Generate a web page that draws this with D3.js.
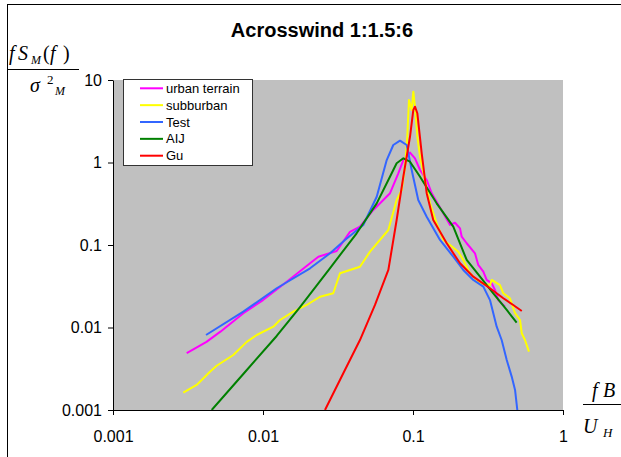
<!DOCTYPE html>
<html><head><meta charset="utf-8">
<script src="https://cdn.jsdelivr.net/npm/d3@7"></script>
<style>body{margin:0;background:#fff}svg{display:block}</style>
</head><body>
<svg id="c" width="621" height="457"></svg>
<script>
const chartTitle = "Acrosswind 1:1.5:6";
const seriesNames = ["urban terrain", "subburban", "Test", "AIJ", "Gu"];
const seriesColors = ["#FF00FF", "#FFFF00", "#3366FF", "#008000", "#FF0000"];
const xTickValues = [0.001, 0.01, 0.1, 1];
const xTickLabels = ["0.001", "0.01", "0.1", "1"];
const yTickValues = [0.001, 0.01, 0.1, 1, 10];
const yTickLabels = ["0.001", "0.01", "0.1", "1", "10"];

const urbanF = [0.0031,0.0042,0.0052,0.0074,0.0100,0.0144,0.0206,0.0234,0.0310,0.0380,0.0443,0.0544,0.0703,0.0798,0.0862,0.0955,0.1031,0.1114,0.1234,0.1333,0.1592,0.1766,0.1905,0.2058,0.2112,0.2280,0.2590,0.2723,0.2943,0.3099,0.3350,0.3521,0.3704,0.4105];
const urbanS = [0.0049,0.0067,0.0089,0.0149,0.0215,0.0359,0.0600,0.0721,0.0846,0.144,0.167,0.266,0.424,0.740,1.07,1.32,1.12,0.811,0.614,0.424,0.242,0.175,0.186,0.159,0.126,0.105,0.0793,0.0573,0.0475,0.0377,0.0343,0.0285,0.0215,0.0179];

const suburbF = [0.00294,0.00361,0.00443,0.00491,0.00634,0.00779,0.00908,0.01172,0.01298,0.01592,0.01955,0.0240,0.0294,0.0326,0.0380,0.0443,0.0517,0.0685,0.0778,0.0841,0.0885,0.0916,0.0940,0.0980,0.1005,0.1031,0.1069,0.1114,0.1202,0.1298,0.1438,0.1592,0.1766,0.2004,0.2163,0.2399,0.2798,0.3260,0.3350,0.380,0.400,0.443,0.479,0.517,0.531,0.558,0.593];
const suburbS = [0.00162,0.00201,0.00291,0.00344,0.00464,0.0067,0.00811,0.01023,0.01233,0.01555,0.01875,0.0236,0.0260,0.0454,0.0498,0.0546,0.0830,0.152,0.351,0.464,0.889,2.05,5.72,4.33,7.22,4.75,2.05,1.175,0.614,0.320,0.183,0.115,0.100,0.0830,0.0658,0.0454,0.0343,0.0327,0.0377,0.0327,0.0260,0.0226,0.0149,0.01233,0.00851,0.00705,0.00509];

const testF = [0.00417,0.00739,0.01234,0.0206,0.0280,0.0352,0.0466,0.0573,0.0668,0.0739,0.0819,0.0908,0.0980,0.1084,0.1234,0.1514,0.1856,0.2163,0.2523,0.2943,0.3260,0.3614,0.390,0.4216,0.455,0.479,0.496];
const testS = [0.00811,0.01555,0.0299,0.0522,0.0793,0.115,0.175,0.385,1.07,1.63,1.84,1.63,0.811,0.351,0.220,0.115,0.0721,0.0498,0.0377,0.0313,0.0215,0.01023,0.00705,0.00404,0.00254,0.00175,0.001];

const aijF = [0.00455,0.00739,0.01234,0.01765,0.0280,0.0421,0.0573,0.0685,0.0778,0.0862,0.0955,0.1114,0.1438,0.1856,0.2280,0.2798,0.343,0.4216,0.491];
const aijS = [0.001,0.00273,0.00789,0.0177,0.0526,0.1387,0.320,0.614,0.978,1.124,1.022,0.673,0.320,0.1667,0.0658,0.0413,0.0260,0.0163,0.01143];

const guF = [0.0259,0.0343,0.0443,0.0558,0.0685,0.0778,0.0862,0.0955,0.1005,0.1031,0.1069,0.1143,0.1234,0.1365,0.1678,0.2058,0.2523,0.326,0.400,0.466,0.531];
const guS = [0.001,0.00279,0.00705,0.01875,0.0498,0.201,0.673,2.05,4.33,4.75,3.95,1.293,0.424,0.201,0.1049,0.0600,0.0413,0.0299,0.0226,0.01875,0.01585];

const seriesF = [urbanF, suburbF, testF, aijF, guF];
const seriesS = [urbanS, suburbS, testS, aijS, guS];

const svg = d3.select("#c");
const L = 113, R = 563, T = 80, B = 410;
const sans = "'Liberation Sans', Arial, sans-serif";
const serif = "'Liberation Serif', 'Times New Roman', serif";

// outer chart frame
svg.append("rect").attr("x", 7.5).attr("y", 4.5).attr("width", 700).attr("height", 600)
  .attr("fill", "#fff").attr("stroke", "#000").attr("stroke-width", 1);

const x = d3.scaleLog().domain([0.001, 1]).range([L, R]);
const y = d3.scaleLog().domain([0.001, 10]).range([B, T]);

// plot area
svg.append("rect").attr("x", L).attr("y", T).attr("width", R - L).attr("height", B - T).attr("fill", "#C0C0C0");

svg.append("defs").append("clipPath").attr("id", "pc")
  .append("rect").attr("x", L).attr("y", T).attr("width", R - L).attr("height", B - T);

const line = d3.line().x(d => x(d[0])).y(d => y(d[1]));
const lines = svg.append("g").attr("clip-path", "url(#pc)");
seriesF.forEach((fs, i) => {
  const pts = fs.map((f, j) => [f, seriesS[i][j]]);
  lines.append("path").datum(pts).attr("d", line).attr("fill", "none")
    .attr("stroke", seriesColors[i]).attr("stroke-width", 2).attr("stroke-linejoin", "round");
});

// axes
const yAxis = svg.append("g").attr("transform", `translate(${L},0)`)
  .call(d3.axisLeft(y).tickValues(yTickValues).tickFormat((d, i) => yTickLabels[i]).tickSize(5).tickSizeOuter(0).tickPadding(6));
const xAxis = svg.append("g").attr("transform", `translate(0,${B})`)
  .call(d3.axisBottom(x).tickValues(xTickValues).tickFormat((d, i) => xTickLabels[i]).tickSize(5).tickSizeOuter(0));
[yAxis, xAxis].forEach(g => {
  g.select(".domain").attr("stroke", "#000");
  g.selectAll(".tick line").attr("stroke", "#000");
  g.selectAll("text").attr("font-family", sans).attr("font-size", 16).attr("fill", "#000");
});
xAxis.selectAll("text").attr("y", 31.5).attr("dy", 0);

// title
svg.append("text").attr("x", 322).attr("y", 37).attr("text-anchor", "middle")
  .attr("font-family", sans).attr("font-weight", "bold").attr("font-size", 20).text(chartTitle);

// y-axis label (fraction)
function t(xp, yp, s, size, italic) {
  svg.append("text").attr("x", xp).attr("y", yp).attr("font-family", serif)
    .attr("font-size", size).attr("font-style", italic ? "italic" : "normal").text(s);
}
t(9, 60, "f", 20, true);
t(18, 60, "S", 20, true);
t(31, 64, "M", 12, true);
t(43, 60, "(", 20, false);
t(50, 60, "f", 20, true);
t(63, 60, ")", 20, false);
svg.append("line").attr("x1", 8).attr("x2", 79).attr("y1", 69.5).attr("y2", 69.5).attr("stroke", "#000");
t(30, 92, "σ", 20, true);
t(47, 84, "2", 13, false);
t(55, 95, "M", 12, true);

// x-axis label (fraction)
t(592, 397, "f", 20, true);
t(603, 397, "B", 20, true);
svg.append("line").attr("x1", 583).attr("x2", 621).attr("y1", 404.5).attr("y2", 404.5).attr("stroke", "#000");
t(583, 433, "U", 20, true);
t(603, 437, "H", 13, true);

// legend
const lg = svg.append("g");
lg.append("rect").attr("x", 123.5).attr("y", 79.5).attr("width", 129).attr("height", 86)
  .attr("fill", "#fff").attr("stroke", "#333");
seriesNames.forEach((n, i) => {
  const yy = 88.3 + i * 16.85;
  lg.append("line").attr("x1", 140).attr("x2", 163).attr("y1", yy).attr("y2", yy)
    .attr("stroke", seriesColors[i]).attr("stroke-width", 2);
  lg.append("text").attr("x", 166).attr("y", yy).attr("dy", "0.35em")
    .attr("font-family", sans).attr("font-size", 13).text(n);
});
</script>
</body></html>
